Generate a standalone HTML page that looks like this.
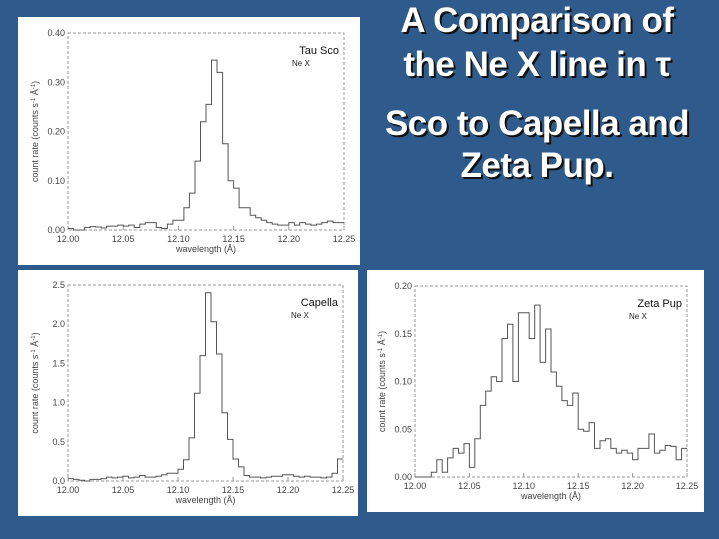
<!DOCTYPE html>
<html><head><meta charset="utf-8"><style>
html,body{margin:0;padding:0}
body{width:719px;height:539px;background:#2f5b8c;position:relative;overflow:hidden;font-family:"Liberation Sans",sans-serif}
.t{position:absolute;left:352px;width:370px;text-align:center;color:#fff;font-weight:bold;font-size:35px;text-shadow:2px 2px 0 #111;line-height:40px;letter-spacing:-0.5px}
svg{position:absolute;left:0;top:0}
</style></head><body>
<div class="t" style="top:1px">A Comparison of</div>
<div class="t" style="top:45px">the Ne X line in τ</div>
<div class="t" style="top:104px">Sco to Capella and</div>
<div class="t" style="top:146px">Zeta Pup.</div>
<svg id="s" width="719" height="539" xmlns="http://www.w3.org/2000/svg"></svg>
<script>
var s=document.getElementById('s');var h='';
function panel(px,py,pw,ph,L,R,T,B,ymax,yt,yl,d,name){
 h+='<rect x="'+px+'" y="'+py+'" width="'+pw+'" height="'+ph+'" fill="#fff"/>';
 h+='<rect x="'+L+'" y="'+T+'" width="'+(R-L)+'" height="'+(B-T)+'" fill="none" stroke="#999" stroke-width="1" stroke-dasharray="3,2"/>';
 var xl=['12.00','12.05','12.10','12.15','12.20','12.25'];
 for(var i=0;i<6;i++){var x=L+i*(R-L)/5;h+='<text x="'+x+'" y="'+(B+12)+'" font-size="9" fill="#444" text-anchor="middle">'+xl[i]+'</text>';
  h+='<line x1="'+x+'" x2="'+x+'" y1="'+B+'" y2="'+(B-4)+'" stroke="#999"/>';}
 for(var i=0;i<yl.length;i++){var y=B-yt[i]/ymax*(B-T);h+='<text x="'+(L-3)+'" y="'+(y+3)+'" font-size="9" fill="#444" text-anchor="end">'+yl[i]+'</text>';}
 h+='<text x="'+((L+R)/2)+'" y="'+(B+22)+'" font-size="9" fill="#444" text-anchor="middle">wavelength (Å)</text>';
 var cy=(T+B)/2;h+='<text transform="translate('+(L-30)+','+cy+') rotate(-90)" font-size="9" fill="#444" text-anchor="middle">count rate (counts s<tspan dy="-3" font-size="6">-1</tspan><tspan dy="3"> Å</tspan><tspan dy="-3" font-size="6">-1</tspan><tspan dy="3">)</tspan></text>';
 h+='<text x="'+(R-5)+'" y="'+(T+21)+'" font-size="11" fill="#111" text-anchor="end">'+name+'</text>';
 h+='<text x="'+(R-58+ (name.length>7?0:6))+'" y="'+(T+33)+'" font-size="8" fill="#222">Ne X</text>';
 var p='',bw=(R-L)/d.length;
 for(var i=0;i<d.length;i++){var y=B-d[i]/ymax*(B-T);var x0=L+i*bw;p+=(i?'L':'M')+x0.toFixed(1)+','+y.toFixed(1)+'L'+(x0+bw).toFixed(1)+','+y.toFixed(1);}
 h+='<path d="'+p+'" fill="none" stroke="#555" stroke-width="1"/>';
}
panel(18,17,342,248,68,344,33,230,0.4,[0,0.1,0.2,0.3,0.4],['0.00','0.10','0.20','0.30','0.40'],
[0.003,0,0,0.005,0.007,0.006,0.004,0.008,0.008,0.01,0.008,0.01,0.005,0.012,0.015,0.015,0.005,0.003,0.012,0.02,0.02,0.045,0.075,0.14,0.22,0.255,0.345,0.32,0.175,0.10,0.085,0.045,0.045,0.03,0.025,0.02,0.015,0.012,0.01,0.01,0.015,0.01,0.015,0.012,0.01,0.012,0.015,0.018,0.015,0.015],'Tau Sco');
panel(18,270,340,246,68,343,285,481,2.5,[0,0.5,1,1.5,2,2.5],['0.0','0.5','1.0','1.5','2.0','2.5'],
[0.03,0.02,0.01,0,0.02,0.02,0.03,0.05,0.04,0.05,0.06,0.04,0.05,0.07,0.05,0.05,0.06,0.08,0.1,0.1,0.15,0.27,0.55,1.12,1.6,2.4,2.03,1.62,0.87,0.53,0.28,0.18,0.07,0.05,0.05,0.04,0.05,0.06,0.06,0.08,0.08,0.06,0.05,0.06,0.05,0.05,0.04,0.05,0.1,0.28],'Capella');
panel(367,270,337,242,415,687,286,477,0.2,[0,0.05,0.1,0.15,0.2],['0.00','0.05','0.10','0.15','0.20'],
[0,0,0,0.005,0.018,0.005,0.02,0.03,0.025,0.035,0.01,0.04,0.075,0.09,0.105,0.1,0.145,0.16,0.1,0.172,0.172,0.145,0.18,0.12,0.155,0.11,0.095,0.08,0.075,0.088,0.05,0.048,0.057,0.03,0.038,0.04,0.03,0.025,0.028,0.025,0.018,0.03,0.03,0.045,0.025,0.028,0.033,0.032,0.018,0.03],'Zeta Pup');
s.innerHTML=h;
</script>
</body></html>
